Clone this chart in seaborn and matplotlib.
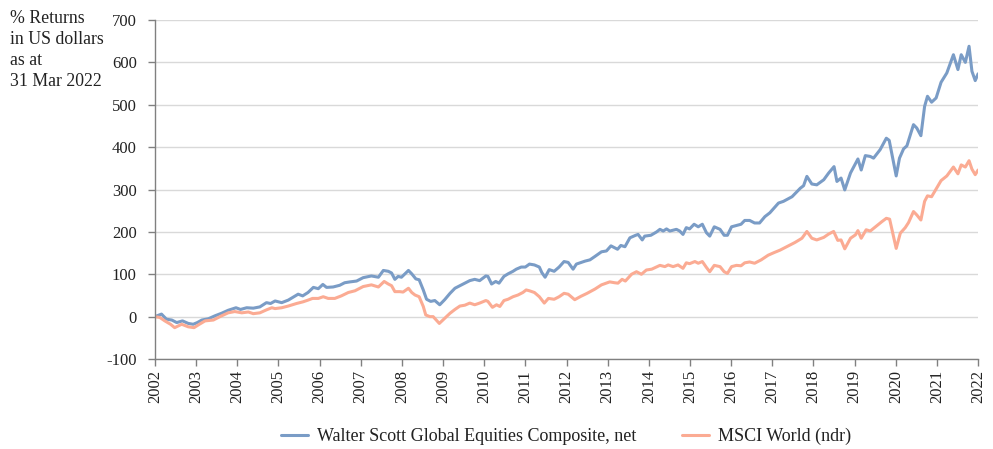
import pandas as pd
import seaborn as sns
import matplotlib.pyplot as plt

# values (x = decimal year, y = % return)
wsg_years = [2002.0, 2002.16, 2002.28, 2002.41, 2002.53, 2002.67, 2002.81, 2002.93, 2003.03, 2003.14,
             2003.3, 2003.46, 2003.62, 2003.78, 2003.97, 2004.08, 2004.23, 2004.39, 2004.55, 2004.71,
             2004.81, 2004.92, 2005.08, 2005.24, 2005.38, 2005.48, 2005.59, 2005.72, 2005.85, 2005.97,
             2006.08, 2006.17, 2006.33, 2006.49, 2006.61, 2006.74, 2006.9, 2007.06, 2007.26, 2007.43,
             2007.55, 2007.67, 2007.75, 2007.83, 2007.91, 2007.99, 2008.16, 2008.24, 2008.34, 2008.42,
             2008.52, 2008.6, 2008.7, 2008.8, 2008.92, 2009.04, 2009.17, 2009.29, 2009.41, 2009.53,
             2009.65, 2009.77, 2009.89, 2010.04, 2010.09, 2010.18, 2010.28, 2010.36, 2010.48, 2010.58,
             2010.7, 2010.78, 2010.9, 2011.0, 2011.1, 2011.22, 2011.34, 2011.4, 2011.48, 2011.58,
             2011.7, 2011.82, 2011.94, 2012.04, 2012.16, 2012.24, 2012.45, 2012.57, 2012.69, 2012.85,
             2012.97, 2013.08, 2013.24, 2013.32, 2013.42, 2013.54, 2013.68, 2013.74, 2013.84, 2013.9,
             2014.05, 2014.19, 2014.27, 2014.35, 2014.43, 2014.51, 2014.67, 2014.75, 2014.83, 2014.91,
             2014.99, 2015.1, 2015.2, 2015.3, 2015.4, 2015.48, 2015.59, 2015.73, 2015.83, 2015.91,
             2016.01, 2016.13, 2016.24, 2016.33, 2016.45, 2016.57, 2016.69, 2016.82, 2016.94, 2017.15,
             2017.27, 2017.48, 2017.68, 2017.76, 2017.84, 2017.96, 2018.08, 2018.25, 2018.37, 2018.5,
             2018.57, 2018.67, 2018.76, 2018.9, 2019.08, 2019.16, 2019.26, 2019.38, 2019.46, 2019.62,
             2019.77, 2019.84, 2020.01, 2020.09, 2020.19, 2020.27, 2020.43, 2020.51, 2020.61, 2020.7,
             2020.77, 2020.87, 2020.98, 2021.1, 2021.24, 2021.4, 2021.51, 2021.59, 2021.69, 2021.78,
             2021.85, 2021.93, 2022.0]
wsg_values = [0, 6, -6, -8, -14, -10, -16, -18, -14, -8,
              -5, 2, 8, 15, 21, 17, 21, 20, 23, 33,
              31, 37, 33, 39, 47, 53, 49, 57, 69, 66,
              76, 69, 70, 74, 80, 82, 84, 92, 96, 93,
              109, 107, 103, 88, 95, 93, 109, 101, 89, 87,
              63, 41, 36, 38, 28, 40, 55, 67, 73, 79,
              85, 88, 85, 96, 95, 77, 83, 79, 95, 101,
              107, 112, 117, 117, 124, 122, 117, 104, 93, 111,
              107, 117, 130, 128, 112, 124, 131, 134, 142, 153,
              155, 167, 159, 168, 165, 186, 192, 194, 181, 190,
              192, 200, 206, 202, 207, 202, 206, 202, 194, 210,
              207, 218, 212, 218, 198, 190, 212, 206, 192, 192,
              212, 215, 218, 227, 227, 221, 221, 236, 245, 268,
              272, 283, 303, 309, 331, 313, 311, 323, 339, 354,
              319, 327, 299, 339, 372, 346, 380, 378, 374, 394,
              421, 416, 332, 374, 396, 403, 453, 445, 427, 496,
              520, 506, 516, 553, 575, 618, 583, 618, 600, 638,
              579, 557, 573]

msci_years = [2002.0, 2002.12, 2002.24, 2002.38, 2002.48, 2002.65, 2002.81, 2002.95, 2003.08, 2003.22,
              2003.42, 2003.58, 2003.78, 2003.94, 2004.11, 2004.27, 2004.39, 2004.55, 2004.71, 2004.84,
              2004.92, 2005.08, 2005.24, 2005.44, 2005.6, 2005.72, 2005.83, 2005.97, 2006.09, 2006.21,
              2006.37, 2006.53, 2006.7, 2006.86, 2007.06, 2007.26, 2007.43, 2007.57, 2007.67, 2007.75,
              2007.83, 2007.95, 2008.03, 2008.16, 2008.24, 2008.32, 2008.42, 2008.52, 2008.58, 2008.68,
              2008.76, 2008.91, 2009.04, 2009.17, 2009.29, 2009.41, 2009.53, 2009.65, 2009.77, 2009.89,
              2010.04, 2010.09, 2010.2, 2010.3, 2010.38, 2010.48, 2010.58, 2010.7, 2010.82, 2010.94,
              2011.02, 2011.1, 2011.22, 2011.34, 2011.46, 2011.56, 2011.7, 2011.82, 2011.94, 2012.04,
              2012.2, 2012.35, 2012.5, 2012.69, 2012.85, 2013.05, 2013.17, 2013.25, 2013.35, 2013.43,
              2013.58, 2013.7, 2013.82, 2013.94, 2014.07, 2014.27, 2014.39, 2014.47, 2014.59, 2014.71,
              2014.83, 2014.91, 2014.99, 2015.12, 2015.2, 2015.3, 2015.4, 2015.48, 2015.59, 2015.73,
              2015.83, 2015.91, 2016.01, 2016.13, 2016.24, 2016.33, 2016.45, 2016.57, 2016.73, 2016.9,
              2017.04, 2017.19, 2017.39, 2017.55, 2017.72, 2017.84, 2017.96, 2018.08, 2018.25, 2018.37,
              2018.49, 2018.59, 2018.67, 2018.76, 2018.9, 2019.02, 2019.08, 2019.16, 2019.28, 2019.38,
              2019.52, 2019.66, 2019.77, 2019.85, 2020.01, 2020.11, 2020.23, 2020.31, 2020.43, 2020.51,
              2020.61, 2020.7, 2020.77, 2020.87, 2020.98, 2021.1, 2021.24, 2021.4, 2021.51, 2021.59,
              2021.69, 2021.78, 2021.85, 2021.93, 2022.0]
msci_values = [0, -2, -10, -18, -26, -18, -24, -26, -18, -10,
               -8, 0, 9, 12, 9, 11, 7, 9, 16, 21,
               19, 21, 25, 31, 35, 39, 43, 43, 47, 43,
               43, 49, 57, 61, 71, 75, 70, 83, 77, 73,
               59, 59, 58, 67, 57, 51, 47, 24, 4, 0,
               0, -16, -4, 8, 17, 25, 27, 32, 28, 32,
               38, 36, 22, 28, 24, 38, 41, 47, 51, 57,
               63, 61, 57, 47, 32, 43, 41, 47, 55, 53,
               40, 48, 55, 65, 75, 82, 80, 79, 88, 84,
               100, 106, 100, 110, 112, 121, 118, 122, 118, 122,
               114, 127, 125, 130, 126, 130, 116, 106, 121, 118,
               106, 102, 118, 121, 120, 127, 129, 126, 134, 145,
               151, 157, 167, 175, 185, 201, 185, 181, 187, 195,
               201, 180, 181, 160, 185, 193, 203, 185, 205, 202,
               213, 224, 232, 230, 161, 197, 210, 222, 248, 240,
               228, 272, 285, 283, 301, 321, 332, 353, 337, 358,
               353, 368, 348, 335, 346]

series_names = ["Walter Scott Global Equities Composite, net", "MSCI World (ndr)"]
colors = ["#7a9cc6", "#fbab93"]
year_ticks = list(range(2002, 2023))

df = pd.concat([
    pd.DataFrame({"year": wsg_years, "ret": wsg_values, "series": series_names[0]}),
    pd.DataFrame({"year": msci_years, "ret": msci_values, "series": series_names[1]}),
])

sns.set_style("white")
plt.rcParams["font.family"] = ["Liberation Serif", "DejaVu Serif"]
plt.rcParams["axes.unicode_minus"] = False

fig = plt.figure(figsize=(9.93, 4.49), dpi=100)
ax = fig.add_axes([0.156, 0.2004, 0.829, 0.7551])

sns.lineplot(data=df, x="year", y="ret", hue="series", hue_order=series_names,
             palette=colors, linewidth=2.2, ax=ax, sort=True)

ax.set_xlim(2002, 2022)
ax.set_ylim(-100, 700)
ax.set_yticks(range(-100, 701, 100))
ax.set_xticks(year_ticks)
ax.set_xticklabels([str(y) for y in year_ticks], rotation=90)
ax.set_xlabel("")
ax.set_ylabel("")
ax.grid(axis="y", color="#d9d9d9", linewidth=1)
ax.set_axisbelow(True)
for s in ["top", "right"]:
    ax.spines[s].set_visible(False)
for s in ["left", "bottom"]:
    ax.spines[s].set_color("#808080")
    ax.spines[s].set_linewidth(1)
ax.tick_params(axis="both", which="major", length=5, width=1, color="#808080",
               labelsize=12, labelcolor="#222222")
ax.tick_params(axis="y", pad=8, left=True)
ax.tick_params(axis="x", pad=3, bottom=True)

fig.text(0.01, 0.978, "% Returns\nin US dollars\nas at\n31 Mar 2022", ha="left", va="top",
         fontsize=12.8, color="#222222", linespacing=1.3)

handles, labels = ax.get_legend_handles_labels()
ax.legend_.remove()
fig.legend(handles, labels, loc="center", bbox_to_anchor=(0.57, 0.028), ncol=2,
           frameon=False, fontsize=13, handlelength=1.5, handletextpad=0.5,
           columnspacing=2.5, labelcolor="#222222")

plt.savefig("out.png", dpi=100)
